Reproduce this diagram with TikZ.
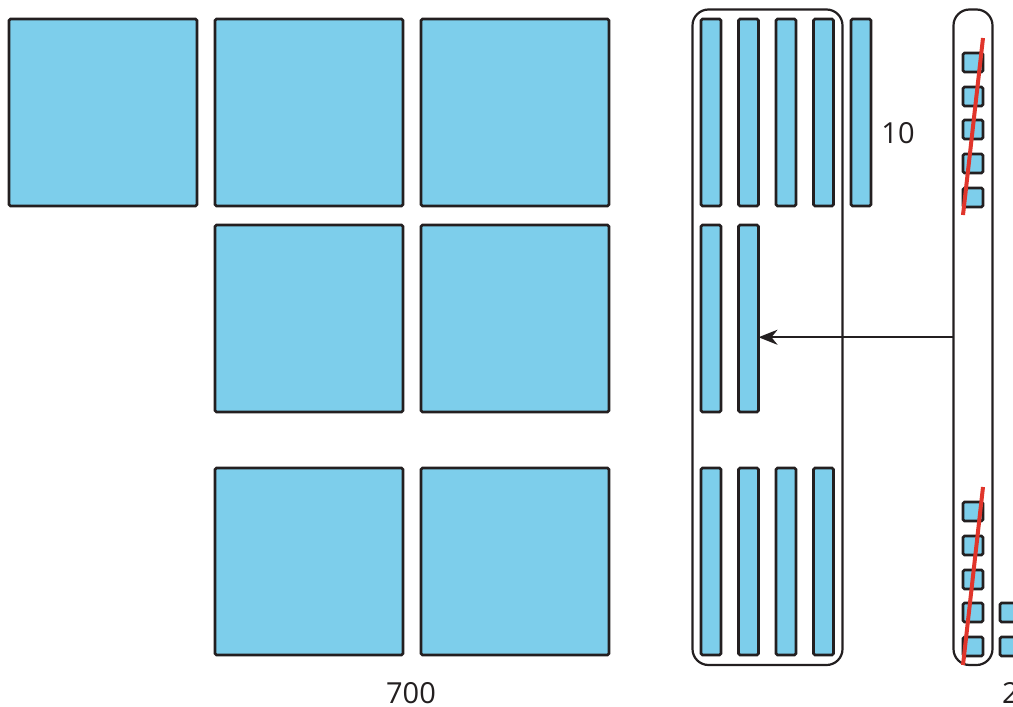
\documentclass[tikz,border=0pt]{standalone}
\usepackage{fontspec}
\setmainfont{Open Sans}
\usepackage{tikz}
\usetikzlibrary{calc,arrows.meta}

\definecolor{tileblue}{HTML}{7DCEEB}
\definecolor{outline}{HTML}{231F20}
\definecolor{crossred}{HTML}{E0352B}

\begin{document}
\begin{tikzpicture}[x=1pt,y=-1pt]
    \tikzstyle{edge} = [line width=2pt,-{Stealth[length=19pt,width=15pt,inset=6pt]},draw=outline]
    \tikzstyle{tile}=[
      rectangle,
      draw=outline,
      fill=tileblue,
      line width=2.8pt,
      rounded corners=1.5pt,
      anchor=north west,
      inner sep=0pt,
      outer sep=0pt,
    ]
    \tikzstyle{hundred}=[
      tile,
      minimum width=188pt,
      minimum height=187pt,
    ]
    \tikzstyle{ten}=[
      tile,
      minimum width=20pt,
      minimum height=187pt,
    ]
    \tikzstyle{one}=[
      tile,
      minimum width=20pt,
      minimum height=19pt,
    ]
    \tikzstyle{group}=[
      rectangle,
      draw=outline,
      line width=2.2pt,
      rounded corners=16pt,
      anchor=north west,
      inner sep=0pt,
      outer sep=0pt,
    ]
    \tikzstyle{cross}=[line width=4pt,draw=crossred]
    \tikzstyle{label}=[font=\fontsize{29}{34}\selectfont,text=outline,inner sep=0pt,text depth=0pt]

    \useasboundingbox (0,0) rectangle (1013,707);
    \clip (0,0) rectangle (1013,707);

    \coordinate (hundredAnchor) at (9,19);
    \coordinate (tenAnchor) at (701,19);
    \coordinate (oneAnchor) at (963,53);

    % hundreds
    {
      \node[hundred] (hundred1) at ([xshift=0pt, yshift=0pt] hundredAnchor) {};
      \node[hundred] (hundred2) at ([xshift=206pt, yshift=0pt] hundredAnchor) {};
      \node[hundred] (hundred3) at ([xshift=412pt, yshift=0pt] hundredAnchor) {};

      \node[hundred] (hundred4) at ([xshift=206pt, yshift=-206pt] hundredAnchor) {};
      \node[hundred] (hundred5) at ([xshift=412pt, yshift=-206pt] hundredAnchor) {};

      \node[hundred] (hundred6) at ([xshift=206pt, yshift=-449pt] hundredAnchor) {};
      \node[hundred] (hundred7) at ([xshift=412pt, yshift=-449pt] hundredAnchor) {};

      \node[label, anchor=base] (hundredLabel) at (411,703) {700};
    }

    % tens
    {
      \node[group, minimum width=150pt, minimum height=655.5pt] (groupBox) at (692.5,9.5) {};

      \node[ten] (ten1) at ([xshift=0pt, yshift=0pt] tenAnchor) {};
      \node[ten] (ten2) at ([xshift=37.5pt, yshift=0pt] tenAnchor) {};
      \node[ten] (ten3) at ([xshift=75pt, yshift=0pt] tenAnchor) {};
      \node[ten] (ten4) at ([xshift=112.5pt, yshift=0pt] tenAnchor) {};
      \node[ten] (ten5) at ([xshift=150pt, yshift=0pt] tenAnchor) {};

      \node[ten] (ten6) at ([xshift=0pt, yshift=-206pt] tenAnchor) {};
      \node[ten] (ten7) at ([xshift=37.5pt, yshift=-206pt] tenAnchor) {};

      \node[ten] (ten8) at ([xshift=0pt, yshift=-449pt] tenAnchor) {};
      \node[ten] (ten9) at ([xshift=37.5pt, yshift=-449pt] tenAnchor) {};
      \node[ten] (ten10) at ([xshift=75pt, yshift=-449pt] tenAnchor) {};
      \node[ten] (ten11) at ([xshift=112.5pt, yshift=-449pt] tenAnchor) {};

      \node[label, anchor=base] (tenLabel) at (898,143) {10};
    }

    % ones
    {
      \node[group, minimum width=39pt, minimum height=655.5pt] (tallBox) at (953.5,9.5) {};

      \node[one] (one1) at ([xshift=0pt, yshift=0pt] oneAnchor) {};
      \node[one] (one2) at ([xshift=0pt, yshift=-34pt] oneAnchor) {};
      \node[one] (one3) at ([xshift=0pt, yshift=-67pt] oneAnchor) {};
      \node[one] (one4) at ([xshift=0pt, yshift=-101pt] oneAnchor) {};
      \node[one] (one5) at ([xshift=0pt, yshift=-135pt] oneAnchor) {};

      \node[one] (one6) at ([xshift=0pt, yshift=-449pt] oneAnchor) {};
      \node[one] (one7) at ([xshift=0pt, yshift=-483pt] oneAnchor) {};
      \node[one] (one8) at ([xshift=0pt, yshift=-517pt] oneAnchor) {};
      \node[one] (one9) at ([xshift=0pt, yshift=-550pt] oneAnchor) {};
      \node[one] (one10) at ([xshift=0pt, yshift=-584pt] oneAnchor) {};

      \node[one] (one11) at ([xshift=37pt, yshift=-550pt] oneAnchor) {};
      \node[one] (one12) at ([xshift=37pt, yshift=-584pt] oneAnchor) {};

      \node[label, anchor=base west] (oneLabel) at (1002,703) {20};
    }

    % crossed out
    {
      \coordinate (crossTopA) at (983,38);
      \coordinate (crossTopB) at (963,215);
      \coordinate (crossBotA) at (983,487);
      \coordinate (crossBotB) at (963,665);
      \draw[cross] (crossTopA)--(crossTopB);
      \draw[cross] (crossBotA)--(crossBotB);
    }

    % regroup
    {
      \draw[edge] (tallBox.west)--(tallBox.west -| ten7.east);
    }
\end{tikzpicture}
\end{document}
